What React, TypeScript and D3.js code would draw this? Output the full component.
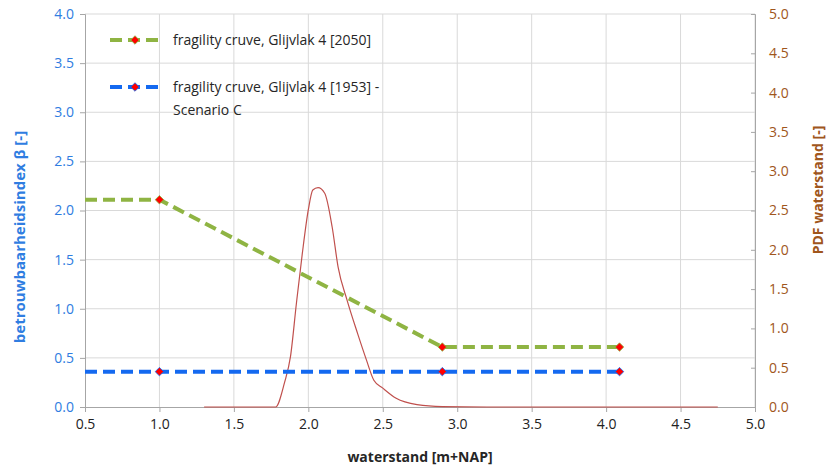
import React, { useEffect, useRef } from "react";
import * as d3 from "d3";

// fragility curves (waterstand [m+NAP] -> beta)
const fragility2050X = [0.5, 1.0, 2.9, 4.09];
const fragility2050Y = [2.11, 2.11, 0.61, 0.61];
const fragility1953X = [0.5, 1.0, 2.9, 4.09];
const fragility1953Y = [0.36, 0.36, 0.36, 0.36];
const markerFrom = 1; // first point has no marker

// PDF of waterstand
const pdfX = [1.3, 1.78, 1.84, 1.88, 1.92, 1.96, 2.0, 2.03, 2.065, 2.11, 2.16, 2.2, 2.26, 2.33, 2.39, 2.44, 2.5, 2.59, 2.73, 2.9, 3.2, 4.75];
const pdfY = [0, 0, 0.31, 0.64, 1.32, 1.96, 2.51, 2.76, 2.79, 2.72, 2.29, 1.78, 1.36, 0.94, 0.6, 0.34, 0.24, 0.11, 0.03, 0.005, 0, 0];

const xTicks = [0.5, 1.0, 1.5, 2.0, 2.5, 3.0, 3.5, 4.0, 4.5, 5.0];
const yTicks = [0, 0.5, 1.0, 1.5, 2.0, 2.5, 3.0, 3.5, 4.0];
const y2Ticks = [0, 0.5, 1.0, 1.5, 2.0, 2.5, 3.0, 3.5, 4.0, 4.5, 5.0];

const legendLabels = [
  ["fragility cruve, Glijvlak 4 [2050]"],
  ["fragility cruve, Glijvlak 4 [1953] -", "Scenario C"],
];

const GREEN = "#8fb443";
const BLUE = "#1469f0";
const BROWN = "#a0561c";
const AXISBLUE = "#2f7de1";
const FONT = "'Open Sans', 'Noto Sans', sans-serif";

const App = () => {
  const ref = useRef<SVGSVGElement>(null);

  useEffect(() => {
    const width = 834;
    const height = 470;
    const margin = { top: 14, right: 79, bottom: 63, left: 85 };

    const svg = d3.select(ref.current);
    svg.selectAll("*").remove();
    svg.attr("width", width).attr("height", height);

    const x = d3.scaleLinear().domain([0.5, 5]).range([margin.left, width - margin.right]);
    const y = d3.scaleLinear().domain([0, 4]).range([height - margin.bottom, margin.top]);
    const y2 = d3.scaleLinear().domain([0, 5]).range([height - margin.bottom, margin.top]);

    // grid
    const grid = svg.append("g").attr("stroke", "#d9d9d9").attr("stroke-width", 1);
    xTicks.slice(1).forEach((t) =>
      grid.append("line").attr("x1", x(t)).attr("x2", x(t)).attr("y1", y(0)).attr("y2", y(4))
    );
    yTicks.slice(1).forEach((t) =>
      grid.append("line").attr("x1", x(0.5)).attr("x2", x(5)).attr("y1", y(t)).attr("y2", y(t))
    );

    // axes
    const xAxis = svg
      .append("g")
      .attr("transform", `translate(0,${y(0)})`)
      .call(d3.axisBottom(x).tickValues(xTicks).tickFormat(d3.format(".1f")).tickSize(5).tickPadding(7));
    xAxis.selectAll("text").attr("fill", "#222").style("font-size", "14px").style("font-family", FONT);

    const yAxis = svg
      .append("g")
      .attr("transform", `translate(${x(0.5)},0)`)
      .call(d3.axisLeft(y).tickValues(yTicks).tickFormat(d3.format(".1f")).tickSize(5).tickPadding(6));
    yAxis.selectAll("text").attr("fill", AXISBLUE).style("font-size", "14px").style("font-family", FONT);

    const y2Axis = svg
      .append("g")
      .attr("transform", `translate(${x(5)},0)`)
      .call(d3.axisRight(y2).tickValues(y2Ticks).tickFormat(d3.format(".1f")).tickSize(-4).tickPadding(14));
    y2Axis.selectAll("text").attr("fill", BROWN).style("font-size", "14px").style("font-family", FONT);

    [xAxis, yAxis, y2Axis].forEach((g) => {
      g.select(".domain").attr("stroke", "#a6a6a6");
      g.selectAll(".tick line").attr("stroke", "#a6a6a6");
    });

    // PDF curve
    const pdfLine = d3
      .line<number>()
      .x((d, i) => x(pdfX[i]))
      .y((d) => y2(d))
      .curve(d3.curveMonotoneX);
    svg
      .append("path")
      .datum(pdfY)
      .attr("d", pdfLine)
      .attr("fill", "none")
      .attr("stroke", "#c0504d")
      .attr("stroke-width", 1.2);

    const series = [
      { xs: fragility2050X, ys: fragility2050Y, color: GREEN },
      { xs: fragility1953X, ys: fragility1953Y, color: BLUE },
    ];

    series.forEach((s) => {
      const line = d3
        .line<number>()
        .x((d, i) => x(s.xs[i]))
        .y((d) => y(d));
      svg
        .append("path")
        .datum(s.ys)
        .attr("d", line)
        .attr("fill", "none")
        .attr("stroke", s.color)
        .attr("stroke-width", 4)
        .attr("stroke-dasharray", "12,6");
    });

    // square symbol rotated 45deg gives an even diamond
    const diamond = d3.symbol().type(d3.symbolSquare).size(36);
    const marker = (g: any, cx: number, cy: number, c: string) =>
      g
        .append("path")
        .attr("d", diamond)
        .attr("transform", `translate(${cx},${cy}) rotate(45)`)
        .attr("fill", "#ff0000")
        .attr("stroke", c)
        .attr("stroke-width", 0.8);

    series.forEach((s) => {
      s.ys.forEach((v, i) => {
        if (i < markerFrom) return;
        marker(svg, x(s.xs[i]), y(v), s.color);
      });
    });

    // legend
    const legend = svg.append("g").attr("transform", "translate(110,40)");
    [GREEN, BLUE].forEach((c, i) => {
      const g = legend.append("g").attr("transform", `translate(0,${i * 47})`);
      g.append("line")
        .attr("x1", 0)
        .attr("x2", 50)
        .attr("y1", 0)
        .attr("y2", 0)
        .attr("stroke", c)
        .attr("stroke-width", 4)
        .attr("stroke-dasharray", "12,6");
      marker(g, 25, 0, c);
      legendLabels[i].forEach((t, j) => {
        g.append("text")
          .attr("x", 63)
          .attr("y", j * 23 + 5)
          .attr("fill", "#262626")
          .style("font-size", "14px")
          .style("font-family", FONT)
          .text(t);
      });
    });

    // axis titles
    svg
      .append("text")
      .attr("x", (x(0.5) + x(5)) / 2)
      .attr("y", 462)
      .attr("text-anchor", "middle")
      .attr("fill", "#262626")
      .style("font-size", "14px")
      .style("font-weight", "bold")
      .style("font-family", FONT)
      .text("waterstand [m+NAP]");

    svg
      .append("text")
      .attr("transform", `translate(25,${237}) rotate(-90)`)
      .attr("text-anchor", "middle")
      .attr("fill", AXISBLUE)
      .style("font-size", "15px")
      .style("font-weight", "bold")
      .style("font-family", FONT)
      .text("betrouwbaarheidsindex β [-]");

    svg
      .append("text")
      .attr("transform", `translate(823,${190}) rotate(-90)`)
      .attr("text-anchor", "middle")
      .attr("fill", BROWN)
      .style("font-size", "14px")
      .style("font-weight", "bold")
      .style("font-family", FONT)
      .text("PDF waterstand [-]");
  }, []);

  return (
    <div style={{ position: "absolute", left: 0, top: 0 }}>
      <svg ref={ref}></svg>
    </div>
  );
};

export default App;
